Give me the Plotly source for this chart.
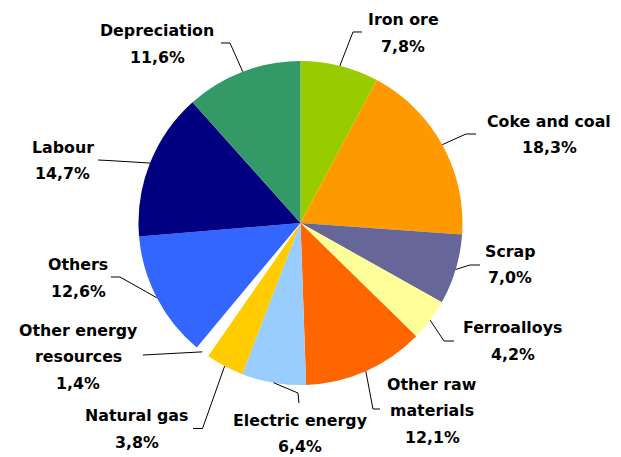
import math
import plotly.graph_objects as go

# ---- data ----
categories = ["Iron ore", "Coke and coal", "Scrap", "Ferroalloys", "Other raw materials",
              "Electric energy", "Natural gas", "Other energy resources", "Others",
              "Labour", "Depreciation"]
shares = [7.8, 18.3, 7.0, 4.2, 12.1, 6.4, 3.8, 1.4, 12.6, 14.7, 11.6]
colors = ["#99CC00", "#FF9900", "#666699", "#FFFF99", "#FF6600",
          "#99CCFF", "#FFCC00", "#FFFFFF", "#3366FF", "#000080", "#339966"]

# ---- layout (pixels) ----
W, H = 621, 457
CX, CY, R = 300.5, 223.0, 162.0
PITCH = 26.5
FONT = dict(family="DejaVu Sans", size=15.8, color="#000000")

# label name line breaks, first-line center, leader elbow & end points
label_cfg = {
    "Iron ore":               dict(lines=["Iron ore"], x=403, y=19.5, elbow=(353, 32), end=(362, 32)),
    "Coke and coal":          dict(lines=["Coke and coal"], x=549, y=121, elbow=(466, 134), end=(476, 134)),
    "Scrap":                  dict(lines=["Scrap"], x=510, y=251, elbow=(470, 265), end=(480, 265)),
    "Ferroalloys":            dict(lines=["Ferroalloys"], x=512.5, y=327.5, elbow=(444, 341), end=(454, 341)),
    "Other raw materials":    dict(lines=["Other raw", "materials"], x=432, y=384, elbow=(373, 409), end=(380, 409)),
    "Electric energy":        dict(lines=["Electric energy"], x=300, y=420, elbow=(298, 393), end=(299, 403)),
    "Natural gas":            dict(lines=["Natural gas"], x=136.5, y=415.5, elbow=(202.5, 428.5), end=(193, 428.5)),
    "Other energy resources": dict(lines=["Other energy", "resources"], x=78, y=330, elbow=None, end=(143, 355)),
    "Others":                 dict(lines=["Others"], x=78, y=264.5, elbow=(120, 277), end=(111, 277)),
    "Labour":                 dict(lines=["Labour"], x=62.5, y=147, elbow=(108, 160.5), end=(98, 160)),
    "Depreciation":           dict(lines=["Depreciation"], x=157, y=30.5, elbow=(230, 43), end=(221, 43)),
}


def px(x):
    return x / W


def py(y):
    return 1 - y / H


fig = go.Figure(go.Pie(
    labels=categories,
    values=shares,
    sort=False,
    direction="clockwise",
    rotation=0,
    marker=dict(colors=colors, line=dict(width=0)),
    textinfo="none",
    hoverinfo="label+percent",
    showlegend=False,
    domain=dict(x=[px(CX - R), px(CX + R)], y=[py(CY + R), py(CY - R)]),
))

annotations = []
shapes = []
total = sum(shares)
cum = 0.0
for cat, v in zip(categories, shares):
    mid = (cum + v / 2) / total * 2 * math.pi
    cum += v
    sx = CX + R * math.sin(mid)
    sy = CY - R * math.cos(mid)
    cfg = label_cfg[cat]
    text_lines = cfg["lines"] + [f"{v:.1f}".replace(".", ",") + "%"]
    for i, t in enumerate(text_lines):
        annotations.append(dict(
            x=px(cfg["x"]), y=py(cfg["y"] + i * PITCH), xref="paper", yref="paper",
            text=f"<b>{t}</b>", showarrow=False, xanchor="center", yanchor="middle",
            font=FONT,
        ))
    pts = [(sx, sy)]
    if cfg["elbow"] is not None:
        pts.append(cfg["elbow"])
    pts.append(cfg["end"])
    path = "M " + " L ".join(f"{px(a):.5f},{py(b):.5f}" for a, b in pts)
    shapes.append(dict(type="path", path=path, xref="paper", yref="paper",
                       line=dict(color="#000000", width=1)))

fig.update_layout(
    width=W, height=H,
    margin=dict(l=0, r=0, t=0, b=0),
    paper_bgcolor="#FFFFFF",
    plot_bgcolor="#FFFFFF",
    annotations=annotations,
    shapes=shapes,
)

fig.write_html(
    "out.html",
    config={"displayModeBar": False},
    post_script="document.body.style.margin='0';document.body.style.overflow='hidden';",
)
